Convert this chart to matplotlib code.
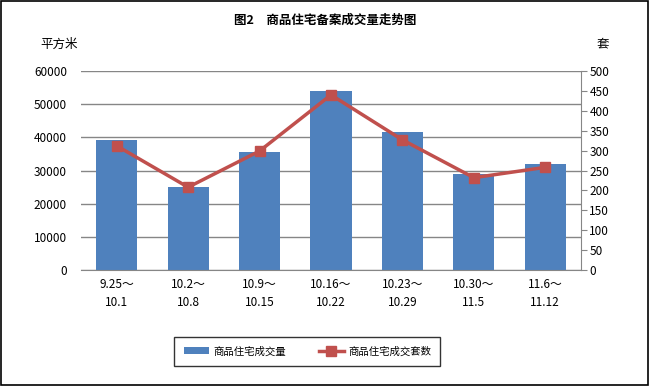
import numpy as np
import matplotlib
matplotlib.use('Agg')
import matplotlib.pyplot as plt
from matplotlib.patches import Rectangle

plt.rcParams['font.family'] = ['Noto Sans CJK SC', 'DejaVu Sans']

weeks = ['9.25～\n10.1', '10.2～\n10.8', '10.9～\n10.15', '10.16～\n10.22',
         '10.23～\n10.29', '10.30～\n11.5', '11.6～\n11.12']
area = [39200, 25000, 35600, 54000, 41500, 28900, 32000]
units = [312, 208, 299, 440, 327, 232, 258]

fig = plt.figure(figsize=(6.5, 3.86), dpi=100)
ax = fig.add_axes([0.1246, 0.3005, 0.7692, 0.5155])
x = np.arange(len(weeks))

ax.set_axisbelow(True)
ax.yaxis.grid(True, color='#868686', linewidth=1)
bars = ax.bar(x, area, width=0.575, color='#4F81BD', label='商品住宅成交量')
ax.set_ylim(0, 60000)
ax.set_yticks(np.arange(0, 60001, 10000))
ax.set_xlim(-0.5, len(weeks) - 0.5)
ax.set_xticks(x)
ax.set_xticklabels(weeks, fontsize=8.5, linespacing=1.5)
ax.tick_params(axis='x', length=0, pad=6)
ax.tick_params(axis='y', length=0, labelsize=8.5, pad=10)
for s in ['top', 'left', 'right']:
    ax.spines[s].set_visible(False)
ax.spines['bottom'].set_color('#868686')

ax2 = ax.twinx()
line, = ax2.plot(x, units, color='#C0504D', linewidth=2.5, marker='s',
                 markersize=7, label='商品住宅成交套数')
ax2.set_ylim(0, 500)
ax2.set_yticks(np.arange(0, 501, 50))
ax2.tick_params(axis='y', length=4, color='#868686', labelsize=8.5, pad=2)
for s in ['top', 'left', 'bottom']:
    ax2.spines[s].set_visible(False)
ax2.spines['right'].set_color('#868686')

fig.text(0.5, 0.948, '图2　商品住宅备案成交量走势图', ha='center', va='center',
         fontsize=9, fontweight='bold')
fig.text(0.062, 0.886, '平方米', ha='left', va='center', fontsize=9)
fig.text(0.928, 0.886, '套', ha='center', va='center', fontsize=9)

leg = fig.legend([bars, line], ['商品住宅成交量', '商品住宅成交套数'],
                 loc='center', bbox_to_anchor=(0.473, 0.090), ncol=2,
                 fontsize=7.5, frameon=True, fancybox=False, handlelength=2.4,
                 handletextpad=0.4, columnspacing=3.2, borderpad=0.9,
                 borderaxespad=0)
leg.get_frame().set_edgecolor('black')
leg.get_frame().set_linewidth(1)

fig.patches.append(Rectangle((0.002, 0.003), 0.995, 0.994, transform=fig.transFigure,
                             fill=False, edgecolor='black', linewidth=1.2))

fig.savefig('out.png', dpi=100)
